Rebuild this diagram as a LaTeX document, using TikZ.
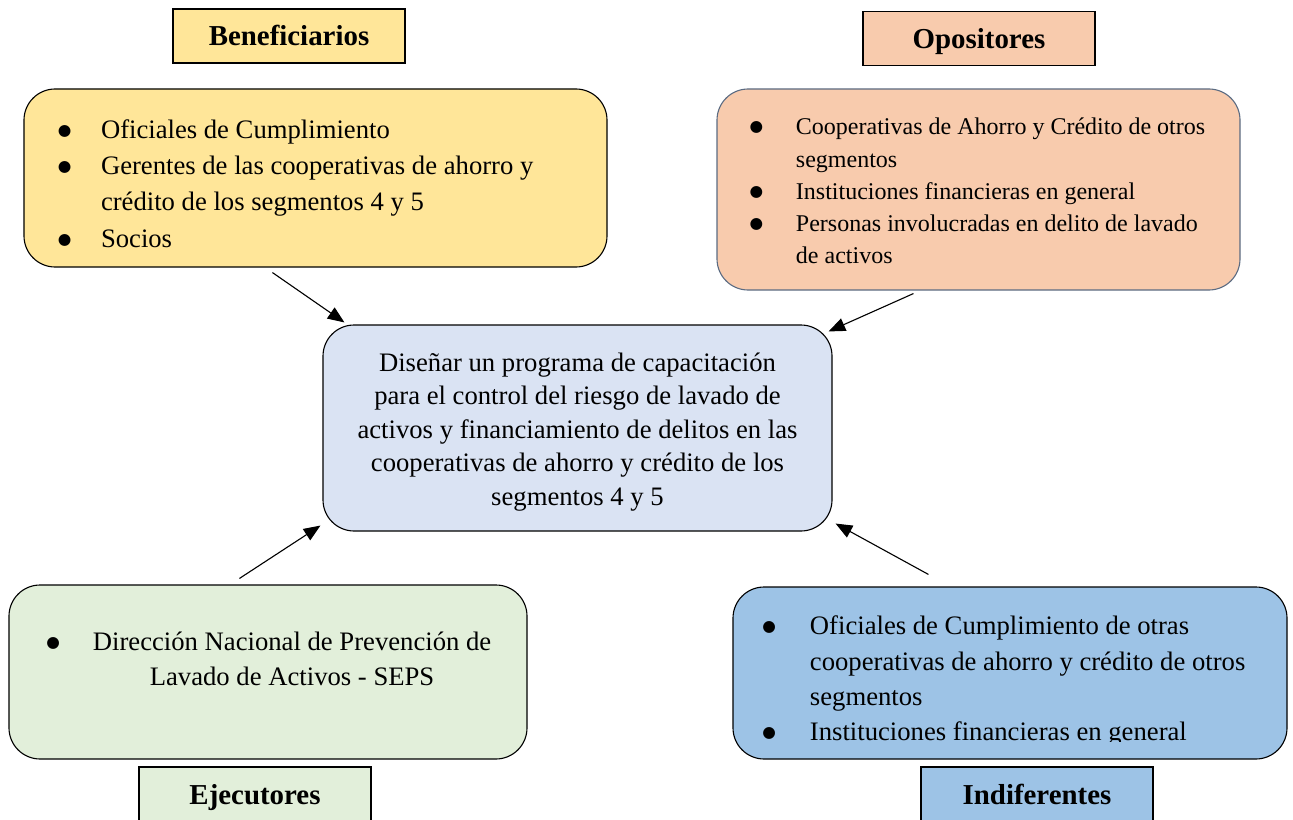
\documentclass[tikz,border=0pt]{standalone}
\usepackage{fontspec}
\setmainfont{Liberation Serif}
\newfontfamily\dotfont{DejaVu Sans}
\usetikzlibrary{arrows.meta}

\definecolor{beneYellow}{HTML}{FFE699}
\definecolor{oposOrange}{HTML}{F8CBAD}
\definecolor{oposLine}{HTML}{5B6B82}
\definecolor{centreBlue}{HTML}{DAE3F3}
\definecolor{ejecGreen}{HTML}{E2EFDA}
\definecolor{indifBlue}{HTML}{9DC3E6}

% bullet line and continuation line
\newcommand{\bul}{\raisebox{1.4pt}{\dotfont\fontsize{7}{7}\selectfont ●}}
\newcommand{\blt}[2]{\makebox[#1][l]{\bul}\mbox{#2}\par}
\newcommand{\bcont}[2]{\hspace*{#1}\mbox{#2}\par}

\tikzset{
  headbox/.style={draw, line width=0.6pt, minimum width=104.4pt, minimum height=24.3pt, inner sep=0pt, text height=9pt, text depth=0pt, font=\bfseries\fontsize{13}{15}\selectfont},
  groupbox/.style={draw, line width=0.5pt, rounded corners=14pt, inner sep=0pt},
  arrowline/.style={-{Triangle[length=7.5pt,width=6pt]}, line width=0.5pt}
}

\begin{document}
\begin{tikzpicture}[x=0.45pt,y=-0.45pt]
\useasboundingbox (0,0) rectangle (1293,819);

\draw node[headbox, fill=beneYellow] (benehead) at (289,36) {Beneficiarios};
\draw node[headbox, fill=oposOrange] (oposhead) at (979,38.5) {Opositores};
\draw node[headbox, fill=ejecGreen] (ejechead) at (255,794) {Ejecutores};
\draw node[headbox, fill=indifBlue] (indifhead) at (1037,794) {Indiferentes};

\node[groupbox, fill=beneYellow, minimum width=262.35pt, minimum height=80.1pt, font=\fontsize{12}{16.35}\selectfont] (bene) at (315.5,178)
  {\parbox{231.75pt}{\vspace*{5pt}\blt{19.35pt}{Oficiales de Cumplimiento}\blt{19.35pt}{Gerentes de las cooperativas de ahorro y}\bcont{19.35pt}{crédito de los segmentos 4 y 5}\blt{19.35pt}{Socios}}};

\node[groupbox, draw=oposLine, fill=oposOrange, minimum width=235.35pt, minimum height=90.45pt, font=\fontsize{10.8}{14.5}\selectfont] (opos) at (978.5,189.5)
  {\parbox{205.9pt}{\vspace*{1.5pt}\blt{20.8pt}{Cooperativas de Ahorro y Crédito de otros}\bcont{20.8pt}{segmentos}\blt{20.8pt}{Instituciones financieras en general}\blt{20.8pt}{Personas involucradas en delito de lavado}\bcont{20.8pt}{de activos}}};

\node[groupbox, fill=centreBlue, minimum width=229.05pt, minimum height=92.7pt, font=\fontsize{12}{15.1}\selectfont] (centre) at (577.5,428)
  {\parbox{215pt}{\vspace*{3.6pt}\centering Diseñar un programa de capacitación\\para el control del riesgo de lavado de\\activos y financiamiento de delitos en las\\cooperativas de ahorro y crédito de los\\segmentos 4 y 5}};

\node[groupbox, fill=ejecGreen, minimum width=233.1pt, minimum height=78.3pt, font=\fontsize{12}{15.75}\selectfont] (ejec) at (268,672)
  {\parbox{199.35pt}{\makebox[199.35pt][l]{\makebox[16.2pt][l]{\bul}\parbox[t]{188.6pt}{\centering Dirección Nacional de Prevención de\\Lavado de Activos - SEPS}}\par\vspace{12.15pt}}};

\node[groupbox, fill=indifBlue, minimum width=249.3pt, minimum height=77.4pt] (indif) at (1010,673) {};
\begin{scope}
\clip (indif.north west) rectangle ([shift={(0,-18)}]indif.south east);
\node[anchor=north west, inner sep=0pt, font=\fontsize{12}{15.9}\selectfont] (indiftext) at ([shift={(29.5,29)}]indif.north west)
  {\parbox{240pt}{\blt{21.4pt}{Oficiales de Cumplimiento de otras}\bcont{21.4pt}{cooperativas de ahorro y crédito de otros}\bcont{21.4pt}{segmentos}\blt{21.4pt}{Instituciones financieras en general}}};
\end{scope}

\draw[arrowline] ([shift={(249,5)}]bene.south west) -- ([shift={(22,-2)}]centre.north west);
\draw[arrowline] ([shift={(197,3)}]opos.south west) -- ([shift={(-4,7)}]centre.north east);
\draw[arrowline] ([shift={(231,-6)}]ejec.north west) -- ([shift={(-2,-6)}]centre.south west);
\draw[arrowline] ([shift={(196,-12)}]indif.north west) -- ([shift={(3,-8)}]centre.south east);
\end{tikzpicture}
\end{document}
